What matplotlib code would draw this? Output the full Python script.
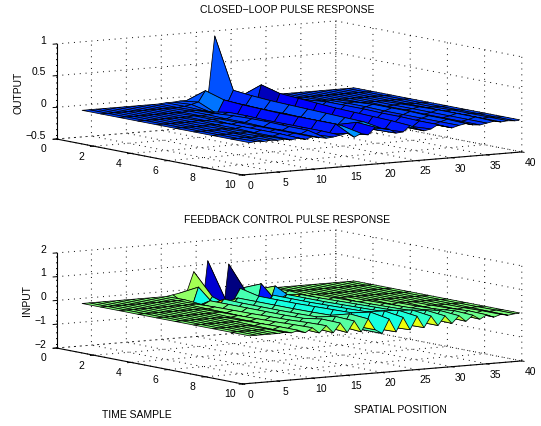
import numpy as np
import matplotlib
matplotlib.use('Agg')
import matplotlib.pyplot as plt
from matplotlib import cm
from mpl_toolkits.mplot3d import proj3d

plt.rcParams['font.family'] = ['Liberation Sans', 'DejaVu Sans']
plt.rcParams['font.size'] = 7.5
plt.rcParams['grid.linestyle'] = (0, (1, 5))
plt.rcParams['grid.linewidth'] = 0.7
plt.rcParams['grid.color'] = 'black'

# data: rows are time samples 1..10, columns spatial positions 1..40
spatial = list(range(1, 41))
samples = list(range(1, 11))

output_rows = [
    [0, 0, 0, 0, 0, 0, 0, 0, 0, 0, 0, 0, .01, .01, .02, .02, .03, .02, .02, 1.0, -.235, .03, -.02, .03, 0, 0, 0, 0, 0, 0, 0, 0, 0, 0, 0, 0, 0, 0, 0, 0],
    [0, 0, 0, 0, 0, 0, 0, 0, 0, 0, 0, 0, .01, .03, .06, .23, .1, .02, -.03, .2, .06, .02, -.17, .25, 0, .02, 0, .01, 0, 0, 0, 0, 0, 0, 0, 0, 0, 0, 0, 0],
    [0, 0, 0, 0, 0, 0, 0, 0, 0, 0, .01, .01, 0, -.03, -.07, .14, .1, -.09, .01, .17, 0, -.08, -.1, .17, .01, -.03, 0, .03, 0, .01, 0, 0, 0, 0, 0, 0, 0, 0, 0, 0],
    [0, 0, 0, 0, 0, 0, 0, 0, .01, 0, .01, .02, -.01, .02, -.07, .12, .09, -.09, .01, .15, 0, -.08, -.09, .15, .01, -.03, -.02, .06, 0, -.01, .01, .02, 0, 0, 0, 0, 0, 0, 0, 0],
    [0, 0, 0, 0, 0, 0, .01, 0, .01, .01, 0, .04, -.03, .02, -.06, .11, .08, -.08, .01, .14, 0, -.07, -.08, .13, .01, -.04, -.03, .06, 0, -.02, .01, .04, 0, -.01, 0, .01, 0, 0, 0, 0],
    [0, 0, 0, 0, 0, .01, 0, .02, -.01, .01, 0, .05, -.04, .01, -.06, .1, .08, -.08, .01, .13, 0, -.07, -.07, .11, .01, -.04, -.04, .06, 0, -.03, 0, .04, -.01, -.01, 0, .02, 0, 0, 0, 0],
    [0, 0, 0, 0, .01, 0, 0, .02, -.02, .01, -.01, .05, -.04, .01, -.06, .1, .07, -.08, .01, .12, 0, -.06, -.06, .1, .01, -.04, -.04, .05, 0, -.03, 0, .04, -.01, -.02, 0, .03, 0, .01, 0, 0],
    [0, 0, 0, .01, 0, .01, -.01, .02, -.02, .01, -.01, .04, -.04, .01, -.05, .1, .07, -.07, .01, .11, 0, -.06, -.06, .09, .01, -.04, -.04, .05, 0, -.03, 0, .03, -.01, -.02, 0, .03, 0, .01, 0, 0],
    [0, 0, .01, 0, .01, 0, -.01, .02, -.02, .01, -.01, .04, -.04, .01, -.05, .1, .06, -.07, .1, .1, 0, -.05, -.05, .08, .01, -.04, -.04, .04, 0, -.03, 0, .03, -.01, -.02, 0, .03, 0, .01, 0, 0],
    [0, .01, 0, .01, 0, .01, -.01, .01, -.02, .01, -.01, -.03, -.02, 0, .02, -.05, 0, -.03, .08, .05, .03, -.04, -.03, .06, 0, -.04, -.02, .04, 0, -.03, 0, .02, -.01, -.02, 0, .02, 0, .01, 0, 0],
]

input_rows = [
    [0, 0, 0, 0, 0, 0, 0, 0, 0, 0, 0, 0, 0, .05, .1, .12, .95, -1.2, 1.36, -.3, -1.4, 1.15, -.2, .1, .05, -.02, 0, 0, 0, 0, 0, 0, 0, 0, 0, 0, 0, 0, 0, 0],
    [0, 0, 0, 0, 0, 0, 0, 0, 0, 0, 0, 0, .02, -.37, .5, -.35, .05, -.3, -.2, -.2, .3, .05, -1.0, .42, -.6, .28, -.1, .03, 0, 0, 0, 0, 0, 0, 0, 0, 0, 0, 0, 0],
    [0, 0, 0, 0, 0, 0, 0, 0, 0, 0, 0, .01, -.05, .1, -.22, .12, -.22, .12, -.25, -.36, .12, -.36, .12, -.33, .1, -.12, .05, -.02, 0, 0, 0, 0, 0, 0, 0, 0, 0, 0, 0, 0],
    [0, 0, 0, 0, 0, 0, 0, 0, 0, 0, -.02, .04, -.08, .1, -.16, .1, -.2, .12, -.22, -.36, .12, -.36, .12, -.32, .1, -.16, .06, -.06, .02, 0, 0, 0, 0, 0, 0, 0, 0, 0, 0, 0],
    [0, 0, 0, 0, 0, 0, 0, 0, 0, .02, -.03, .05, -.08, .1, -.14, .1, -.18, .12, -.2, -.36, .12, -.36, .12, -.3, .1, -.2, .08, -.12, .04, -.04, .01, 0, 0, 0, 0, 0, 0, 0, 0, 0],
    [0, 0, 0, 0, 0, 0, 0, 0, -.02, .03, -.05, .06, -.1, .1, -.13, .1, -.16, .12, -.2, -.36, .14, -.36, .14, -.32, .12, -.24, .1, -.16, .06, -.08, .03, -.03, .01, 0, 0, 0, 0, 0, 0, 0],
    [0, 0, 0, 0, 0, 0, 0, .02, -.03, .05, -.07, .08, -.11, .1, -.13, .11, -.16, .13, -.2, -.36, .16, -.36, .16, -.33, .14, -.27, .12, -.2, .08, -.12, .05, -.06, .02, -.03, .01, -.01, 0, 0, 0, 0],
    [0, 0, 0, 0, 0, 0, -.02, .04, -.05, .07, -.09, .1, -.12, .12, -.14, .13, -.17, .15, -.2, -.36, .18, -.36, .18, -.34, .16, -.3, .14, -.24, .1, -.16, .08, -.11, .05, -.06, .03, -.03, .01, -.01, 0, 0],
    [0, 0, 0, 0, 0, .02, -.03, .06, -.06, .1, -.09, .14, -.12, .24, -.14, .3, -.16, .36, -.18, -.36, .36, -.36, .36, -.34, .34, -.28, .3, -.22, .24, -.16, .18, -.11, .13, -.07, .08, -.04, .03, -.02, .01, 0],
    [0, 0, 0, 0, 0, .02, -.02, .06, -.06, .12, -.12, .16, -.16, .22, -.2, .26, -.22, .3, -.18, -.36, .22, -.34, .24, -.3, .24, -.26, .2, -.22, .16, -.18, .12, -.14, .09, -.1, .06, -.06, .03, -.03, .01, 0],
]

x_ticks = [0, 5, 10, 15, 20, 25, 30, 35, 40]
t_ticks = [0, 2, 4, 6, 8, 10]
out_ticks = [-0.5, 0, 0.5, 1]
in_ticks = [-2, -1, 0, 1, 2]
out_ticklabels = ['\u22120.5', '0', '0.5', '1']
in_ticklabels = ['\u22122', '\u22121', '0', '1', '2']

W, H = 541, 426
fig = plt.figure(figsize=(W / 100, H / 100), dpi=100)


def place(ax, zmin, origin, right):
    # scale and shift the axes so that two floor corners land on given pixels
    fig.canvas.draw()
    L, B, S = 40.0, 40.0, 400.0
    ax.set_position([L / W, B / H, S / W, S / H])
    fig.canvas.draw()
    M = ax.get_proj()
    pts = []
    for px, pt in [(0, 0), (40, 10)]:
        a, b, _ = proj3d.proj_transform(px, pt, zmin, M)
        pts.append(ax.transData.transform((a, b)))
    u0 = (pts[0] - [L, B]) / S
    u1 = (pts[1] - [L, B]) / S
    S2 = (right[0] - origin[0]) / (u1[0] - u0[0])
    L2 = origin[0] - u0[0] * S2
    B2 = (H - origin[1]) - u0[1] * S2
    ax.set_position([L2 / W, B2 / H, S2 / W, S2 / H])


def surface(rows, zticks, zlabels, origin, right):
    ax = fig.add_subplot(projection='3d', proj_type='ortho')
    ax.view_init(elev=7.25, azim=236.85)
    ax.set_box_aspect((333.4, 340, 95.8))
    ax.patch.set_alpha(0)

    Z = np.array(rows, dtype=float)
    X, T = np.meshgrid(spatial, samples)
    colors = cm.jet((Z[:-1, :-1] - Z.min()) / (Z.max() - Z.min()))
    ax.plot_surface(X, T, Z, rstride=1, cstride=1, facecolors=colors,
                    edgecolor='black', linewidth=0.55, shade=False)

    ax.set_xlim(0, 40)
    ax.set_ylim(10, 0)
    ax.set_zlim(zticks[0], zticks[-1])
    ax.set_xticks(x_ticks)
    ax.set_yticks(t_ticks)
    ax.set_zticks(zticks)
    ax.set_zticklabels(zlabels, ha='right', va='baseline')
    ax.tick_params(labelsize=7.5, pad=0, length=2)
    ax.tick_params(axis='z', pad=-4)
    for axis in (ax.xaxis, ax.yaxis, ax.zaxis):
        axis.set_pane_color((1, 1, 1, 0))
        axis.pane.set_edgecolor((1, 1, 1, 0))
        axis.line.set_color('black')
        axis.line.set_linewidth(0.8)
        axis._axinfo['tick']['inward_factor'] = 0.15
        axis._axinfo['tick']['outward_factor'] = 0.0
        axis._axinfo['tick']['linewidth'] = {True: 0.7, False: 0.5}
    place(ax, zticks[0], origin, right)
    return ax


surface(output_rows, out_ticks, out_ticklabels, (56.5, 139), (521.8, 152))
surface(input_rows, in_ticks, in_ticklabels, (56.5, 348), (521.8, 361))


def label(x, y, s, rot=0):
    fig.text(x / W, 1 - y / H, s, ha='center', va='center', rotation=rot, fontsize=7.5)


label(287, 10, 'CLOSED\u2212LOOP PULSE RESPONSE')
label(287, 220, 'FEEDBACK CONTROL PULSE RESPONSE')
label(18, 93, 'OUTPUT', 90)
label(27, 301, 'INPUT', 90)
label(137, 415, 'TIME SAMPLE')
label(400, 410, 'SPATIAL POSITION')

fig.savefig('out.png', dpi=100)
